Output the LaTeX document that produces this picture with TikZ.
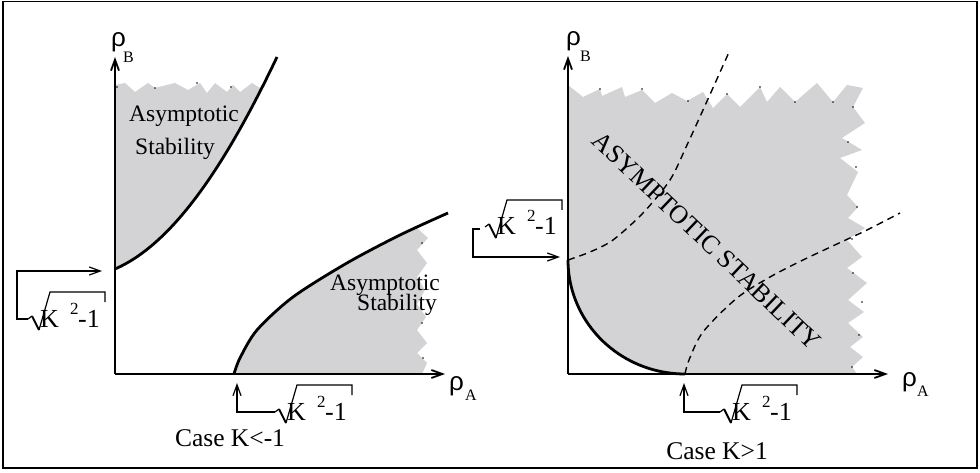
\documentclass[tikz,border=0pt]{standalone}
\usepackage{fontspec}
\setmainfont{Liberation Serif}
\newfontfamily\rhofont{Liberation Sans}
\usetikzlibrary{arrows.meta}
\definecolor{shadegray}{RGB}{211,211,213}
\begin{document}
\begin{tikzpicture}[x=1pt,y=-1pt,
  axis/.style={line width=1.8pt,-{Straight Barb[length=11pt,width=8pt]}},
  bound/.style={line width=2.8pt},
  lbl/.style={line width=1.2pt},
  lblarrow/.style={line width=1.2pt,-{Straight Barb[length=11pt,width=8pt]}},
  dashcurve/.style={line width=1.4pt,dash pattern=on 7pt off 5pt},
  txt/.style={font=\fontsize{23.5}{27}\selectfont,inner sep=0pt,anchor=base west},
  casetxt/.style={font=\fontsize{25.5}{29}\selectfont,inner sep=0pt,anchor=base},
  rho/.style={font=\rhofont\fontsize{26}{30}\selectfont,inner sep=0pt,anchor=base west},
  subtxt/.style={font=\fontsize{16}{18}\selectfont,inner sep=0pt,anchor=base west},
  kk/.style={font=\fontsize{26}{30}\selectfont,inner sep=0pt,anchor=base west},
  sup2/.style={font=\fontsize{17}{19}\selectfont,inner sep=0pt,anchor=base west},
  sqrtlab/.pic={
    \coordinate (-start) at (-22,27);
    \draw[lbl] (-22,27) -- (-18,24);
    \draw[line width=2pt] (-18,24) -- (-11,38);
    \draw[lbl] (-11,38) -- (0,0) -- (55,0) -- (55,10);
    \node[kk] (-k) at (-10,35) {K};
    \node[sup2] (-two) at (20,22) {2};
    \node[kk] (-one) at (28,35) {-1};
  }
]
\useasboundingbox (0,0) rectangle (980,473);
\draw[line width=1.5pt] (3,1.5) rectangle (977,468);

% ---- left panel: upper shaded region
\begin{scope}
\clip (115,269) .. controls (175,243) and (228,160) .. (277,57) -- (277,20) -- (115,20) -- cycle;
\fill[shadegray] (115,300) -- (115,85) -- (125,83) -- (135,92) -- (148,83) -- (155,88) -- (167,85) -- (175,83) -- (188,90) -- (200,83) -- (207,93) -- (215,83) -- (227,92) -- (233,85) -- (240,92) -- (252,83) -- (263,90) -- (275,84) -- (290,90) -- (290,300) -- cycle;
\end{scope}
% ---- left panel: lower shaded region
\begin{scope}
\clip plot[smooth] coordinates {(234,374) (240,358) (257,330) (293,297) (347,263) (400,235) (448,213)} -- (470,213) -- (470,374) -- cycle;
\fill[shadegray] (230,374) -- (230,200) -- (428,200) -- (427,215) -- (417,228) -- (428,238) -- (417,250) -- (427,263) -- (417,277) -- (425,290) -- (417,304) -- (426,317) -- (417,330) -- (427,343) -- (417,353) -- (427,363) -- (422,374) -- cycle;
\end{scope}
% ---- right panel shaded region
\fill[shadegray] (568,260) -- (568,85) -- (583,97) -- (600,89) -- (602,96) -- (622,87) -- (625,97) -- (642,90) -- (655,103) -- (672,93) -- (687,101) -- (703,92) -- (713,108) -- (727,94) -- (740,107) -- (760,87) -- (767,102) -- (780,87) -- (795,102) -- (817,83) -- (833,102) -- (847,85) -- (863,88) -- (853,107) -- (865,123) -- (842,138) -- (862,150) -- (840,158) -- (858,172) -- (847,195) -- (858,207) -- (848,218) -- (865,228) -- (847,240) -- (862,257) -- (847,268) -- (867,283) -- (848,300) -- (864,312) -- (848,323) -- (863,337) -- (850,347) -- (863,357) -- (852,367) -- (857,374) -- (685,374) -- plot[domain=90:180,samples=40] ({685+117*cos(\x)},{260+114*sin(\x)}) -- cycle;

% dots on the jagged edges
\foreach \p in {(117,87),(155,88),(197,83),(231,87),(422,243),(422,323),(423,358),
  (600,89),(642,89),(688,101),(727,94),(760,87),(795,102),(833,102),(853,107),
  (848,142),(856,167),(857,207),(852,239),(853,273),(862,302),(859,335),(852,367)}
  \fill \p circle (0.9);

% ---- axes
\coordinate (O1) at (115,374); \coordinate (Y1) at (115,57); \coordinate (X1) at (445,374);
\coordinate (O2) at (568,374); \coordinate (Y2) at (568,56); \coordinate (X2) at (888,374);
\draw[axis] (O1) -- (Y1);
\draw[axis] (O1) -- (X1);
\draw[axis] (O2) -- (Y2);
\draw[axis] (O2) -- (X2);

% ---- boundaries
\draw[bound] (115,269) .. controls (175,243) and (228,160) .. (277,57);
\draw[bound] plot[smooth] coordinates {(234,374) (240,358) (257,330) (293,297) (347,263) (400,235) (448,213)};
\draw[bound] plot[domain=90:180,samples=40] ({685+117*cos(\x)},{260+114*sin(\x)});
\draw[dashcurve] plot[smooth] coordinates {(568,260) (590,252) (613,240) (643,213) (670,180) (687,145) (703,110) (730,50)};
\draw[dashcurve] plot[smooth] coordinates {(685,374) (689,360) (703,332) (737,298) (770,277) (803,260) (837,244) (867,230) (900,213)};

% ---- sqrt labels
\pic (L1) at (50,292) {sqrtlab};
\coordinate (L1arr) at (102,271);
\draw[lblarrow] (L1-start) -| (17,271) -- (L1arr);
\pic (L2) at (297,385) {sqrtlab};
\coordinate (L2arr) at (237,383);
\draw[lblarrow] (L2-start) -| (L2arr);
\pic (R1) at (507,200) {sqrtlab};
\coordinate (R1c) at (480,229);
\coordinate (R1arr) at (560,257);
\draw[lblarrow] (R1c) -- (473,229) |- (R1arr);
\pic (R2) at (742,385) {sqrtlab};
\coordinate (R2arr) at (684,383);
\draw[lblarrow] (R2-start) -| (R2arr);

% ---- axis labels
\node[rho] (rB1) at (111,46.5) {ρ}; \node[subtxt] (sB1) at (123,63) {B};
\node[rho] (rA1) at (449,390) {ρ}; \node[subtxt] (sA1) at (465,400) {A};
\node[rho] (rB2) at (566,45.5) {ρ}; \node[subtxt] (sB2) at (580,62) {B};
\node[rho] (rA2) at (902,386) {ρ}; \node[subtxt] (sA2) at (917,396) {A};

% ---- texts
\node[txt] (as1) at (129,122) {Asymptotic};
\node[txt] (st1) at (135,155) {Stability};
\node[txt] (as2) at (330,290) {Asymptotic};
\node[txt] (st2) at (357,310) {Stability};
\node[casetxt] (c1) at (230,446) {Case K<-1};
\node[casetxt] (c2) at (717,459) {Case K>1};
\node[font=\fontsize{26}{30}\selectfont,rotate=-43.5,inner sep=0pt] (big) at (707,241) {ASYMPTOTIC STABILITY};
\end{tikzpicture}
\end{document}
